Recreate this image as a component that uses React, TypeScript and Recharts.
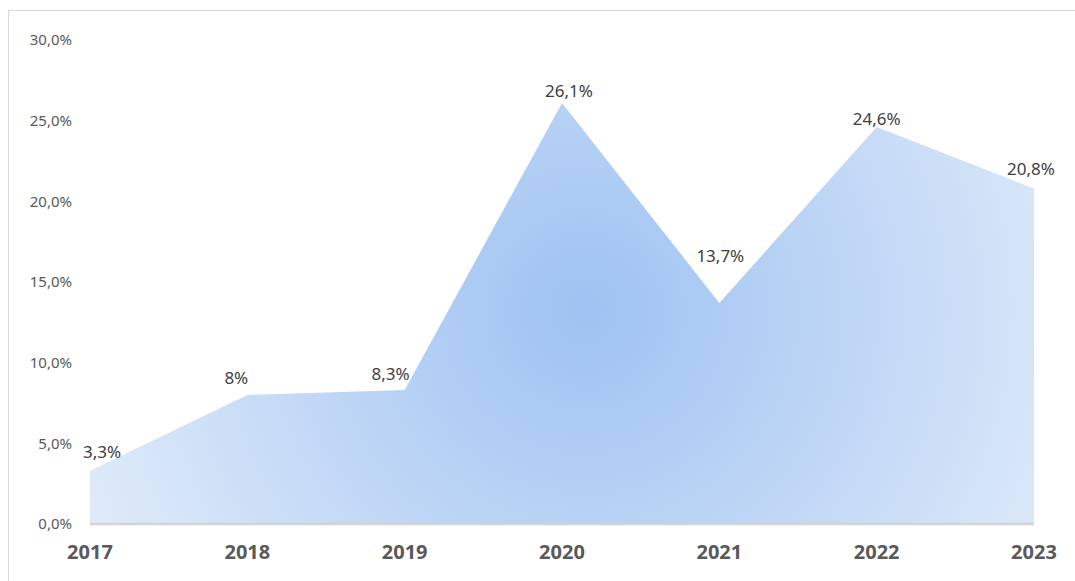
import { Area, AreaChart, LabelList, ReferenceLine, XAxis, YAxis } from 'recharts'

const years = ['2017', '2018', '2019', '2020', '2021', '2022', '2023']
const shares = [3.3, 8, 8.3, 26.1, 13.7, 24.6, 20.8]
const yTicks = [0, 5, 10, 15, 20, 25, 30]

// nudges for the value labels, relative to each point (Excel placed them by hand)
const labelShift: [number, number][] = [
  [12, -19],
  [-11, -17],
  [-14, -16],
  [7, -12],
  [1, -47],
  [0, -8],
  [-3, -19],
]

const data = years.map((year, i) => ({ year, share: shares[i] }))

const font = '"Noto Sans", "Open Sans", sans-serif'

function fmtTick(v: number) {
  return v.toFixed(1).replace('.', ',') + '%'
}

function fmtValue(v: number) {
  return String(v).replace('.', ',') + '%'
}

function ValueLabel(props: any) {
  const { x, y, value, index } = props
  const [dx, dy] = labelShift[index] ?? [0, -16]
  return (
    <text
      x={x + dx}
      y={y + dy + 6}
      textAnchor="middle"
      fill="#404040"
      fontSize={17}
      fontFamily={font}
    >
      {fmtValue(value)}
    </text>
  )
}

export default function App() {
  return (
    <div
      style={{
        position: 'absolute',
        left: 0,
        top: 0,
        width: 1075,
        height: 581,
        overflow: 'hidden',
        background: '#fff',
      }}
    >
      <div
        style={{
          position: 'absolute',
          left: 8,
          top: 10,
          width: 1090,
          height: 600,
          border: '1px solid #d9d9d9',
          boxSizing: 'border-box',
        }}
      />
      <AreaChart
        width={1075}
        height={581}
        data={data}
        margin={{ top: 40, right: 41, left: 10, bottom: 0 }}
        style={{ position: 'absolute', left: 0, top: 0 }}
      >
        <defs>
          <radialGradient id="areaFill" gradientUnits="userSpaceOnUse" cx={585} cy={310} r={540}>
            <stop offset="0%" stopColor="#9ec2f2" />
            <stop offset="100%" stopColor="#e0ebf9" />
          </radialGradient>
        </defs>
        <XAxis
          dataKey="year"
          height={57}
          tickSize={0}
          tickMargin={21}
          axisLine={false}
          tick={{ fill: '#595959', fontSize: 20, fontWeight: 700, fontFamily: font }}
        />
        <YAxis
          width={80}
          domain={[0, 30]}
          ticks={yTicks}
          tickFormatter={fmtTick}
          tickSize={0}
          tickMargin={18}
          axisLine={false}
          tick={{ fill: '#595959', fontSize: 15, fontFamily: font }}
        />
        <Area
          type="linear"
          dataKey="share"
          stroke="none"
          fill="url(#areaFill)"
          fillOpacity={1}
          isAnimationActive={false}
        >
          <LabelList dataKey="share" content={<ValueLabel />} />
        </Area>
        <ReferenceLine y={0} stroke="#d4d4d4" strokeWidth={2.5} />
      </AreaChart>
    </div>
  )
}
